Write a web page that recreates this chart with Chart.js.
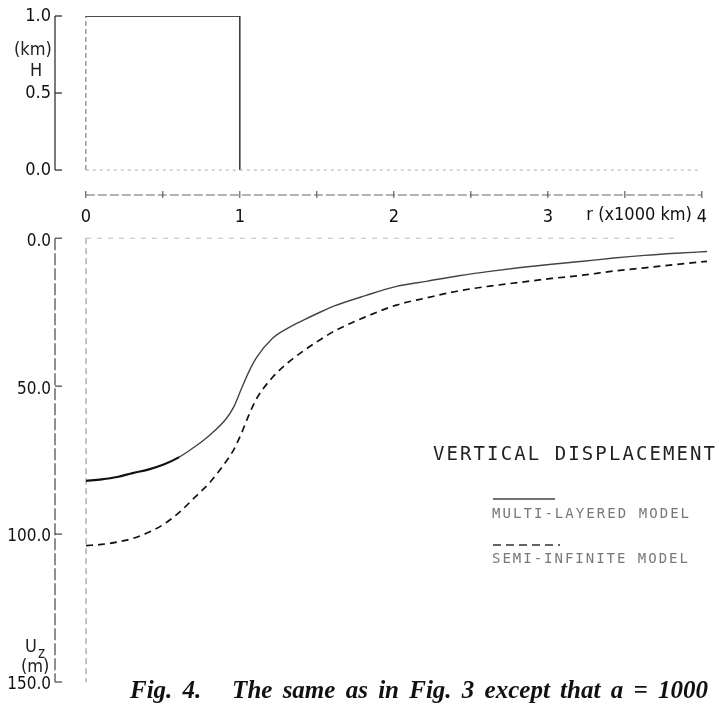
<!DOCTYPE html>
<html><head><meta charset="utf-8">
<script src="https://cdn.jsdelivr.net/npm/chart.js@4/dist/chart.umd.min.js"></script>
<style>
html,body{margin:0;padding:0;background:#fff;}
#wrap{position:relative;width:719px;height:704px;overflow:hidden;background:#fff;}
canvas{position:absolute;left:0;}
#cTop{top:0;}
#cBot{top:224px;}
.lbl{position:absolute;font-family:'Liberation Sans Narrow','DejaVu Sans Condensed',sans-serif;color:#222;font-size:18px;line-height:18px;white-space:nowrap;}
#cap{position:absolute;left:130px;top:676px;font-family:'Liberation Serif','DejaVu Serif',serif;font-weight:bold;font-style:italic;font-size:25px;line-height:28px;white-space:nowrap;color:#111;word-spacing:4px;}
</style></head>
<body>
<div id="wrap">
<canvas id="cTop" width="719" height="230"></canvas>
<canvas id="cBot" width="719" height="480"></canvas>
<div class="lbl" style="left:14px;top:40px;">(km)</div>
<div class="lbl" style="left:30px;top:61px;">H</div>
<div class="lbl" style="left:25px;top:637px;">U</div>
<div class="lbl" style="left:38px;top:644px;font-size:15px;">z</div>
<div class="lbl" style="left:21px;top:657px;">(m)</div>
<div id="cap">Fig. 4.&nbsp;&nbsp; The same as in Fig. 3 except that <span style="font-style:italic">a</span> = 1000</div>
</div>
<script>
// ---------- data ----------
const rTicks = [0, 0.5, 1, 1.5, 2, 2.5, 3, 3.5, 4];
const rTickLabels = ['0', '', '1', '', '2', '', '3', '', '4'];
const rAxisTitle = 'r (x1000 km)';
const hTicks = [0, 0.5, 1.0];
const uTicks = [0, 50, 100, 150];
const layerR = [0, 0, 1, 1];
const layerH = [0, 1, 1, 0];
const rValues      = [0, 0.1, 0.2, 0.3, 0.4, 0.5, 0.6, 0.7, 0.8, 0.9, 0.95, 1.0, 1.05, 1.1, 1.2, 1.3, 1.4, 1.5, 1.6, 1.8, 2.0, 2.2, 2.4, 2.6, 2.8, 3.0, 3.2, 3.4, 3.6, 3.8, 4.0];
const multiLayered = [82.0, 81.5, 80.7, 79.4, 78.2, 76.5, 74.0, 70.5, 66.4, 61.2, 57.2, 51.0, 45.0, 40.2, 33.9, 30.4, 27.7, 25.2, 22.9, 19.4, 16.3, 14.5, 12.7, 11.2, 9.9, 8.8, 7.8, 6.7, 5.8, 5.1, 4.5];
const semiInfinite = [103.9, 103.5, 102.7, 101.5, 99.5, 96.7, 92.7, 87.6, 82.4, 75.6, 71.6, 66.1, 59.6, 54.1, 47.1, 42.1, 38.1, 34.6, 31.4, 26.6, 22.6, 20.1, 17.8, 16.2, 14.9, 13.6, 12.5, 11.1, 10.0, 8.9, 7.8];
const titleText = 'VERTICAL DISPLACEMENT';

const tickFont = {family: "'Liberation Sans Narrow','DejaVu Sans Condensed',sans-serif", size: 18};
const tickFontSmall = {family: "'Liberation Sans Narrow','DejaVu Sans Condensed',sans-serif", size: 17};

function seg(ctx, x1, y1, x2, y2) { ctx.beginPath(); ctx.moveTo(x1, y1); ctx.lineTo(x2, y2); ctx.stroke(); }

// ---------- top panel ----------
const topAxes = {
  id: 'topAxes',
  afterDraw(chart) {
    const {ctx, chartArea, scales: {x, y}} = chart;
    ctx.save();
    const xa = chartArea.left;
    ctx.strokeStyle = '#222'; ctx.lineWidth = 1.2;
    seg(ctx, xa, y.getPixelForValue(0), xa, y.getPixelForValue(1));
    hTicks.forEach(v => { const p = y.getPixelForValue(v); seg(ctx, xa, p, xa + 7, p); });
    // H = 0 base line
    ctx.setLineDash([3, 4]); ctx.strokeStyle = '#aaa'; ctx.lineWidth = 1;
    seg(ctx, x.getPixelForValue(0), y.getPixelForValue(0), x.getPixelForValue(4), y.getPixelForValue(0));
    // r axis
    const ya = chartArea.bottom;
    ctx.setLineDash([9, 3]); ctx.strokeStyle = '#666'; ctx.lineWidth = 1;
    seg(ctx, x.getPixelForValue(0), ya, x.getPixelForValue(4), ya);
    ctx.setLineDash([]); ctx.strokeStyle = '#444';
    rTicks.forEach(v => { const p = x.getPixelForValue(v); seg(ctx, p, ya - 4, p, ya + 3); });
    // axis title
    ctx.fillStyle = '#111';
    ctx.font = `${tickFont.size}px ${tickFont.family}`;
    ctx.textAlign = 'right'; ctx.textBaseline = 'middle';
    ctx.fillText(rAxisTitle, x.getPixelForValue(4) - 10, ya + 20);
    ctx.restore();
  }
};

new Chart(document.getElementById('cTop'), {
  type: 'line',
  data: {datasets: [{
    label: 'layer',
    data: layerR.map((r, i) => ({x: r, y: layerH[i]})),
    borderColor: '#111', borderWidth: 1.5, pointRadius: 0, fill: false, tension: 0,
    segment: {
      borderDash: c => c.p0DataIndex === 0 ? [5, 3] : undefined,
      borderColor: c => c.p0DataIndex === 0 ? '#999' : (c.p0DataIndex === 2 ? '#333' : '#111')
    }
  }]},
  options: {
    responsive: false, animation: false,
    layout: {padding: {left: 0, right: 12, top: 16, bottom: 0}},
    plugins: {legend: {display: false}, tooltip: {enabled: false}},
    scales: {
      x: {
        type: 'linear', min: -0.2, max: 4,
        afterBuildTicks: s => { s.ticks = rTicks.map(v => ({value: v})); },
        afterFit: s => { s.height = 35; },
        ticks: {callback: (v, i) => rTickLabels[i], autoSkip: false, maxRotation: 0, padding: 12, font: tickFont, color: '#111'},
        grid: {display: false, drawTicks: false}, border: {display: false}
      },
      y: {
        type: 'linear', min: -0.162, max: 1,
        afterBuildTicks: s => { s.ticks = hTicks.map(v => ({value: v})); },
        afterFit: s => { s.width = 55; },
        ticks: {callback: v => v.toFixed(1), padding: 4, font: tickFont, color: '#111'},
        grid: {display: false, drawTicks: false}, border: {display: false}
      }
    }
  },
  plugins: [topAxes]
});

// ---------- bottom panel ----------
function fitText(ctx, text, x, y, width) {
  ctx.letterSpacing = '0px';
  const w = ctx.measureText(text).width;
  const ls = (width - w) / (text.length - 1);
  ctx.letterSpacing = ls.toFixed(2) + 'px';
  ctx.fillText(text, x, y);
  ctx.letterSpacing = '0px';
}

const botAxes = {
  id: 'botAxes',
  beforeDatasetsDraw(chart) {
    const {ctx, chartArea, scales: {x, y}} = chart;
    ctx.save();
    const xa = chartArea.left;
    ctx.strokeStyle = '#333'; ctx.lineWidth = 1.1; ctx.setLineDash([12, 3]);
    seg(ctx, xa, y.getPixelForValue(0), xa, y.getPixelForValue(150));
    ctx.setLineDash([]);
    uTicks.forEach(v => { const p = y.getPixelForValue(v); seg(ctx, xa, p, xa + 7, p); });
    // r = 0 line and U = 0 line
    ctx.strokeStyle = '#888'; ctx.lineWidth = 1; ctx.setLineDash([6, 4]);
    seg(ctx, x.getPixelForValue(0), y.getPixelForValue(0), x.getPixelForValue(0), y.getPixelForValue(150));
    ctx.strokeStyle = '#bbb'; ctx.setLineDash([5, 6]);
    seg(ctx, x.getPixelForValue(0), y.getPixelForValue(0), x.getPixelForValue(3.8), y.getPixelForValue(0));
    ctx.restore();
  },
  afterDraw(chart) {
    const {ctx} = chart;
    const ds = chart.data.datasets;
    ctx.save();
    ctx.textBaseline = 'middle'; ctx.textAlign = 'left';
    ctx.fillStyle = '#222';
    ctx.font = "19px 'DejaVu Sans Mono', monospace";
    fitText(ctx, titleText, 433, 231, 282);
    // legend
    ctx.lineWidth = 1.3;
    ctx.strokeStyle = '#444'; ctx.setLineDash([]);
    seg(ctx, 493, 275, 555, 275);
    ctx.strokeStyle = '#333'; ctx.setLineDash([8, 5]);
    seg(ctx, 493, 321, 560, 321);
    ctx.setLineDash([]);
    ctx.fillStyle = '#777';
    ctx.font = "14px 'DejaVu Sans Mono', monospace";
    fitText(ctx, ds[0].label, 492, 290, 197);
    fitText(ctx, ds[1].label, 492, 335, 196);
    ctx.restore();
  }
};

new Chart(document.getElementById('cBot'), {
  type: 'line',
  data: {datasets: [
    {
      label: 'MULTI-LAYERED MODEL',
      data: rValues.map((r, i) => ({x: r, y: multiLayered[i]})),
      borderColor: '#444', borderWidth: 1.4, pointRadius: 0, fill: false,
      cubicInterpolationMode: 'monotone',
      segment: {
        borderWidth: c => c.p0.parsed.x < 0.55 ? 2.2 : 1.4,
        borderColor: c => c.p0.parsed.x < 0.55 ? '#111' : '#444'
      }
    },
    {
      label: 'SEMI-INFINITE MODEL',
      data: rValues.map((r, i) => ({x: r, y: semiInfinite[i]})),
      borderColor: '#111', borderWidth: 1.7, borderDash: [7, 5], pointRadius: 0, fill: false,
      cubicInterpolationMode: 'monotone'
    }
  ]},
  options: {
    responsive: false, animation: false,
    layout: {padding: {left: 0, right: 12, top: 10, bottom: 22}},
    plugins: {legend: {display: false}, tooltip: {enabled: false}},
    scales: {
      x: {type: 'linear', min: -0.2, max: 4, display: false},
      y: {
        type: 'linear', min: 0, max: 150, reverse: true,
        afterBuildTicks: s => { s.ticks = uTicks.map(v => ({value: v})); },
        afterFit: s => { s.width = 55; },
        ticks: {callback: v => v.toFixed(1), padding: 4, labelOffset: 3, font: tickFontSmall, color: '#111'},
        grid: {display: false, drawTicks: false}, border: {display: false}
      }
    }
  },
  plugins: [botAxes]
});
</script>
</body></html>
